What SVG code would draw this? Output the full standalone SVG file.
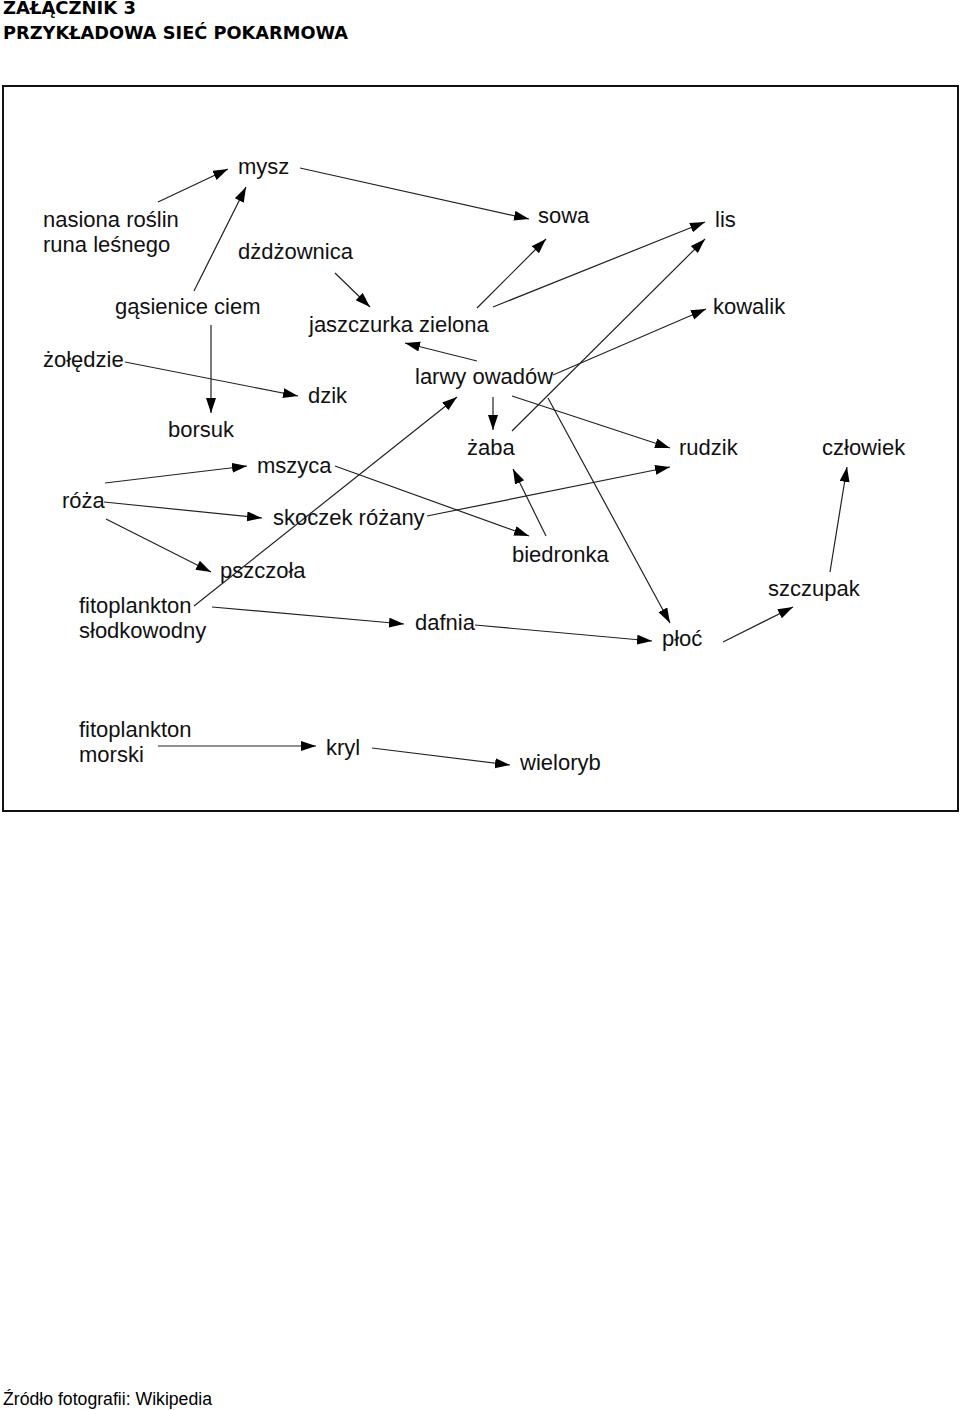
<svg xmlns="http://www.w3.org/2000/svg" width="960" height="1410" viewBox="0 0 960 1410">
<style>
.t{font-family:"Liberation Sans",Arial,sans-serif;font-size:22px;fill:#111}
.h{font-family:"DejaVu Sans","Liberation Sans",Arial,sans-serif;font-size:17px;font-weight:bold;fill:#000}
.f{font-family:"Liberation Sans",Arial,sans-serif;font-size:17.5px;fill:#000}
.e line{stroke:#222;stroke-width:1.2;marker-end:url(#ah)}
</style>
<defs>
<marker id="ah" markerUnits="userSpaceOnUse" markerWidth="16" markerHeight="11" refX="15" refY="5" orient="auto" viewBox="0 0 16 11">
<path d="M0,0 L15,5 L0,10 z" fill="#000"/>
</marker>
</defs>
<rect width="960" height="1410" fill="#fff"/>
<text class="h" x="3" y="14" textLength="133" lengthAdjust="spacingAndGlyphs">ZAŁĄCZNIK 3</text>
<text class="h" x="3" y="39" textLength="345" lengthAdjust="spacingAndGlyphs">PRZYKŁADOWA SIEĆ POKARMOWA</text>
<rect x="3" y="86" width="955" height="725" fill="none" stroke="#111" stroke-width="2"/>
<g id="connectors" class="e">
<line x1="158" y1="202" x2="228" y2="169"/>
<line x1="194" y1="291" x2="246" y2="187"/>
<line x1="300" y1="168" x2="529" y2="219"/>
<line x1="335" y1="273" x2="370" y2="307"/>
<line x1="477" y1="308" x2="546" y2="239"/>
<line x1="493" y1="307" x2="705" y2="222"/>
<line x1="512" y1="431" x2="705" y2="239"/>
<line x1="553" y1="375" x2="706" y2="309"/>
<line x1="477" y1="361" x2="405" y2="343"/>
<line x1="493" y1="397" x2="493" y2="430"/>
<line x1="512" y1="396" x2="670" y2="448"/>
<line x1="548" y1="398" x2="670" y2="623"/>
<line x1="194" y1="606" x2="457" y2="397"/>
<line x1="211" y1="325" x2="211" y2="413"/>
<line x1="125" y1="362" x2="298" y2="396"/>
<line x1="105" y1="483" x2="247" y2="466"/>
<line x1="104" y1="502" x2="262" y2="518"/>
<line x1="106" y1="519" x2="211" y2="572"/>
<line x1="335" y1="466" x2="529" y2="536"/>
<line x1="427" y1="516" x2="670" y2="467"/>
<line x1="546" y1="536" x2="513" y2="469"/>
<line x1="212" y1="607" x2="404" y2="624"/>
<line x1="475" y1="625" x2="652" y2="641"/>
<line x1="723" y1="642" x2="793" y2="607"/>
<line x1="830" y1="572" x2="847" y2="467"/>
<line x1="158" y1="746" x2="316" y2="746"/>
<line x1="372" y1="748" x2="510" y2="765"/>
</g>
<g id="mysz"><text class="t" x="238" y="174">mysz</text></g>
<g id="nasiona"><text class="t" x="43" y="227">nasiona roślin</text><text class="t" x="43" y="252">runa leśnego</text></g>
<g id="dzdzownica"><text class="t" x="238" y="259">dżdżownica</text></g>
<g id="sowa"><text class="t" x="538" y="223">sowa</text></g>
<g id="lis"><text class="t" x="715" y="227">lis</text></g>
<g id="kowalik"><text class="t" x="713" y="314">kowalik</text></g>
<g id="gasienice"><text class="t" x="115" y="314">gąsienice ciem</text></g>
<g id="jaszczurka"><text class="t" x="309" y="332">jaszczurka zielona</text></g>
<g id="zoledzie"><text class="t" x="43" y="367">żołędzie</text></g>
<g id="larwy"><text class="t" x="415" y="384">larwy owadów</text></g>
<g id="dzik"><text class="t" x="308" y="403">dzik</text></g>
<g id="borsuk"><text class="t" x="168" y="437">borsuk</text></g>
<g id="zaba"><text class="t" x="467" y="455">żaba</text></g>
<g id="rudzik"><text class="t" x="679" y="455">rudzik</text></g>
<g id="czlowiek"><text class="t" x="822" y="455">człowiek</text></g>
<g id="mszyca"><text class="t" x="257" y="473">mszyca</text></g>
<g id="roza"><text class="t" x="62" y="508">róża</text></g>
<g id="skoczek"><text class="t" x="273" y="525">skoczek różany</text></g>
<g id="biedronka"><text class="t" x="512" y="562">biedronka</text></g>
<g id="pszczola"><text class="t" x="220" y="578">pszczoła</text></g>
<g id="szczupak"><text class="t" x="768" y="596">szczupak</text></g>
<g id="fitoplankton-slodkowodny"><text class="t" x="79" y="613">fitoplankton</text><text class="t" x="79" y="638">słodkowodny</text></g>
<g id="dafnia"><text class="t" x="415" y="630">dafnia</text></g>
<g id="ploc"><text class="t" x="662" y="646">płoć</text></g>
<g id="fitoplankton-morski"><text class="t" x="79" y="737">fitoplankton</text><text class="t" x="79" y="762">morski</text></g>
<g id="kryl"><text class="t" x="326" y="755">kryl</text></g>
<g id="wieloryb"><text class="t" x="520" y="770">wieloryb</text></g>
<text class="f" x="3" y="1405" textLength="209" lengthAdjust="spacingAndGlyphs">Źródło fotografii: Wikipedia</text>
</svg>
